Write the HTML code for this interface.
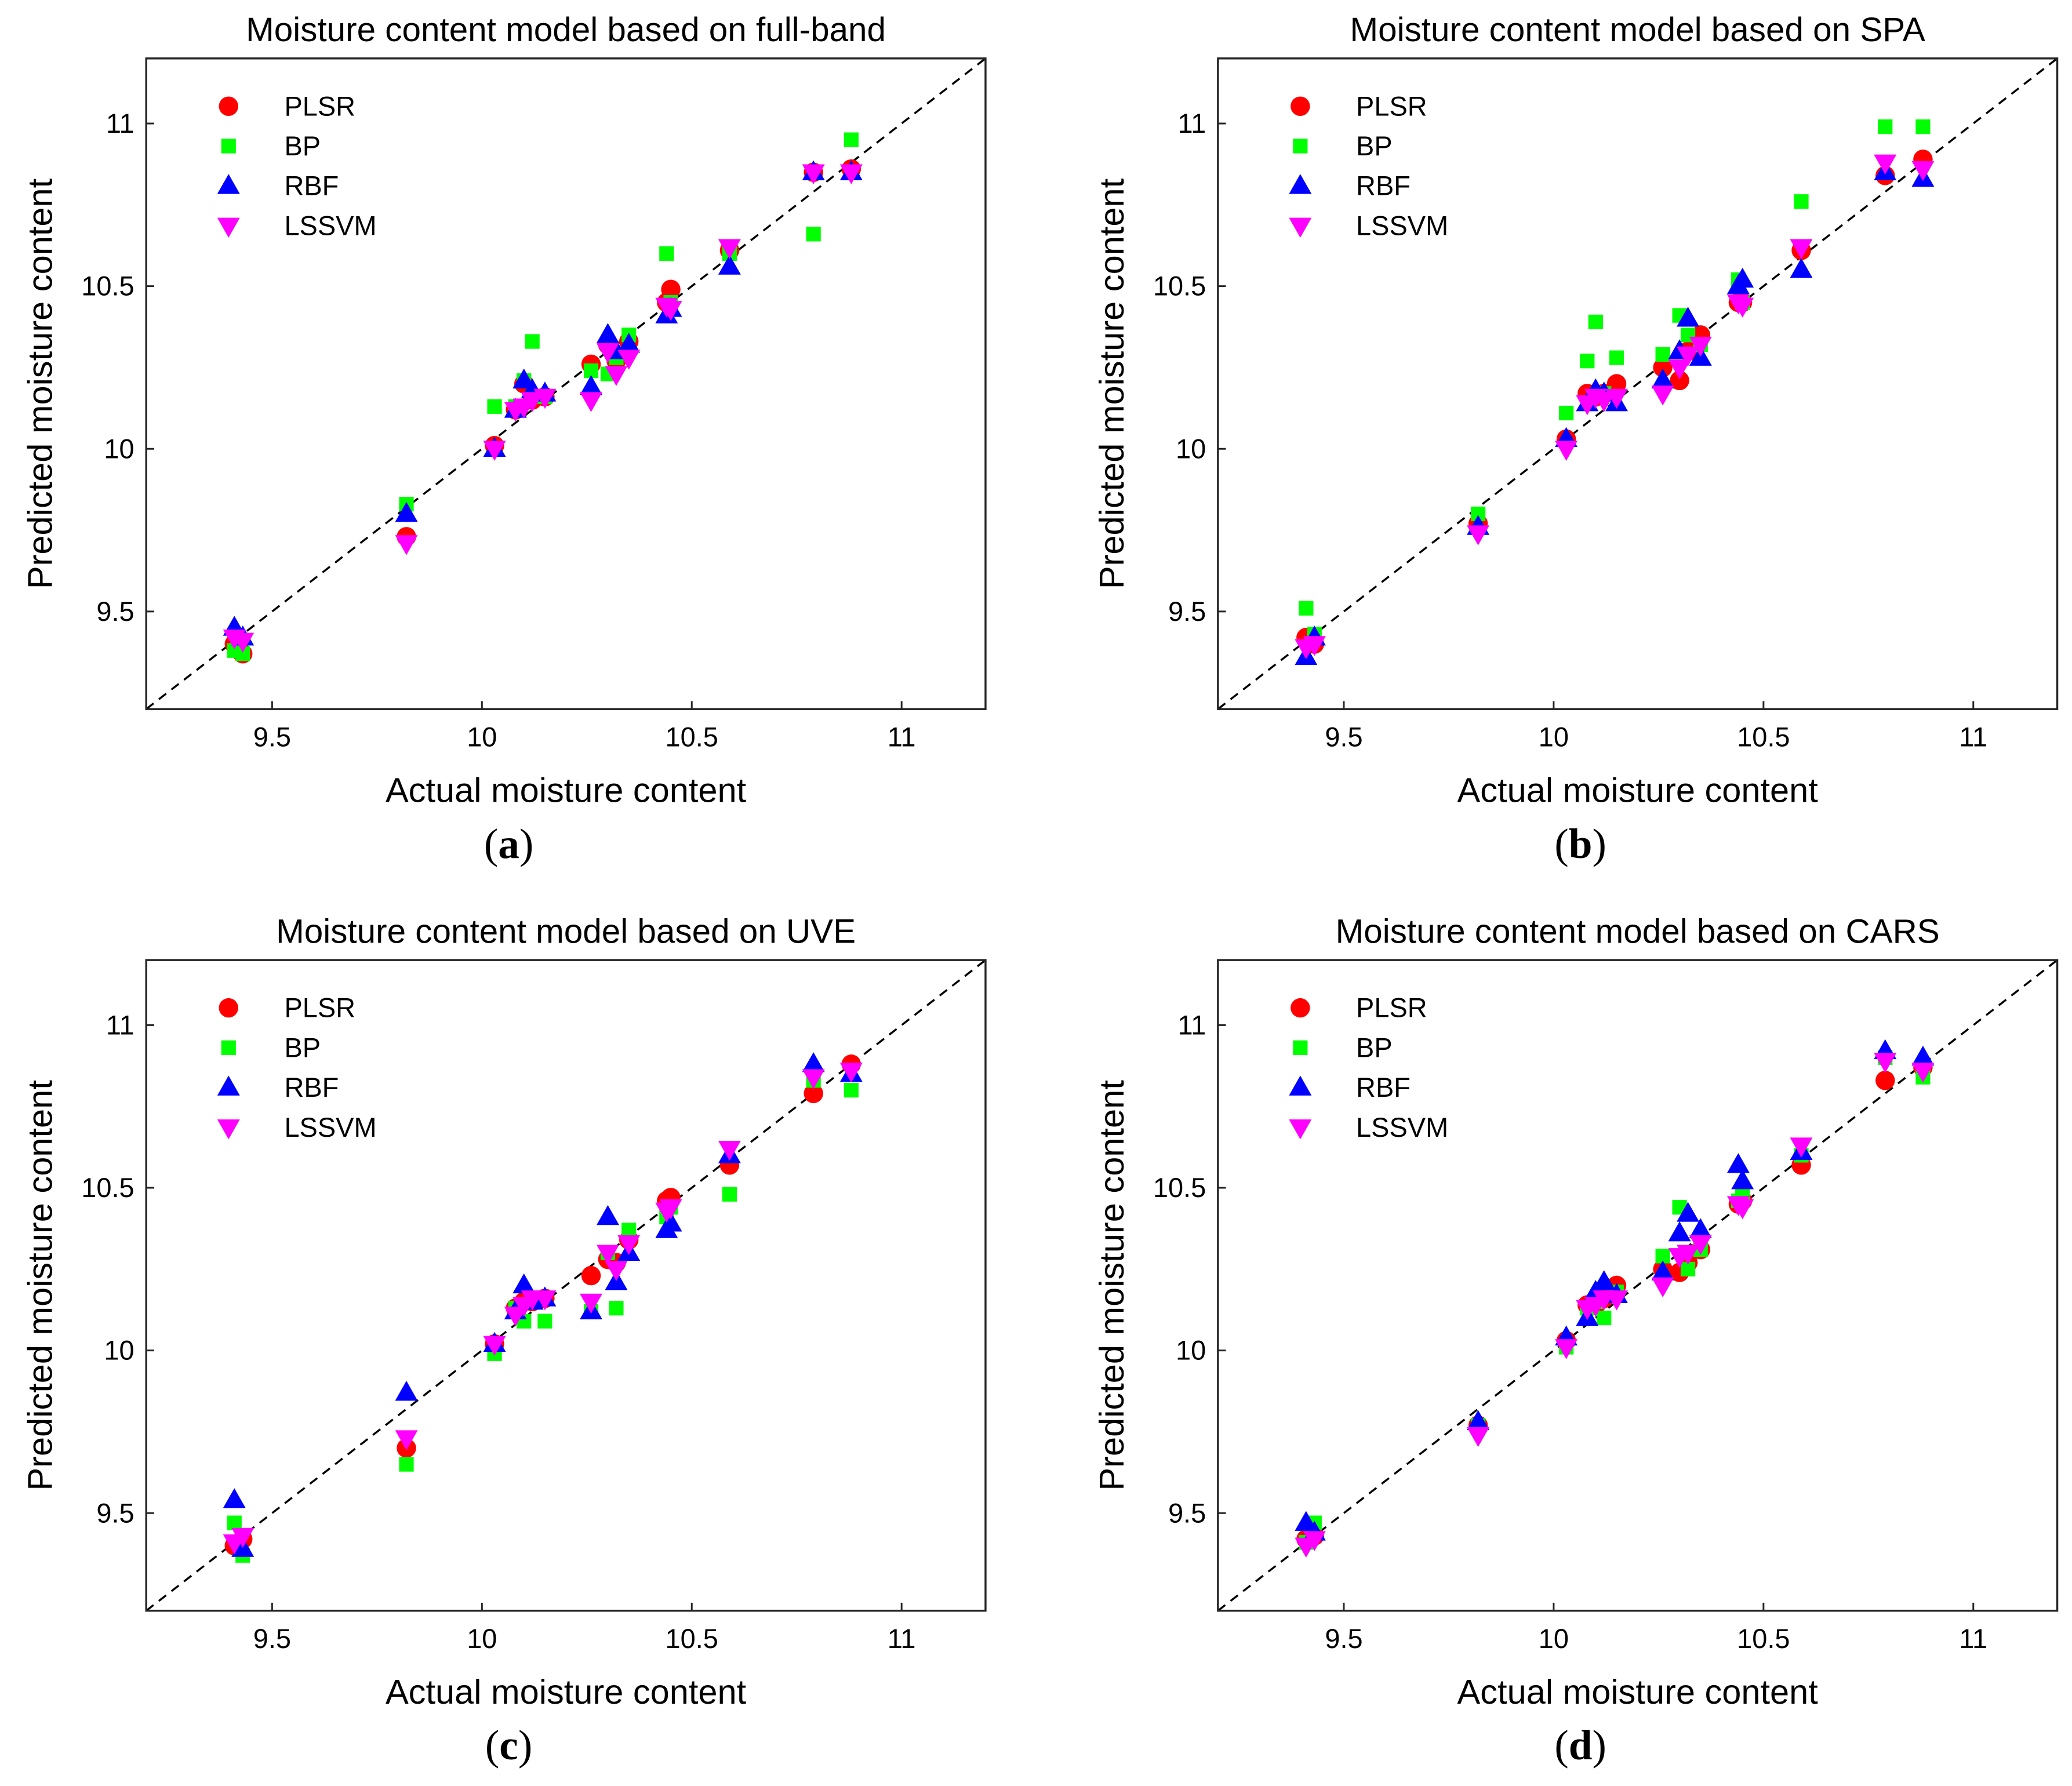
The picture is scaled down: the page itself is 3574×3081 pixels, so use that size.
<!DOCTYPE html>
<html><head><meta charset="utf-8"><style>html,body{margin:0;padding:0;background:#fff}svg{display:block}</style></head>
<body>
<svg id="fig" xmlns="http://www.w3.org/2000/svg" width="3574" height="3081" viewBox="0 0 1560 1345" font-family="Liberation Sans, sans-serif"></svg>
<script>
const actual = [9.41,9.43,9.82,10.03,10.08,10.10,10.12,10.15,10.26,10.30,10.32,10.35,10.44,10.45,10.59,10.79,10.88];
const seriesNames = ["PLSR","BP","RBF","LSSVM"];
const panelTitles = ["Moisture content model based on full-band","Moisture content model based on SPA","Moisture content model based on UVE","Moisture content model based on CARS"];
const panelLetters = ["a","b","c","d"];
const tickValues = [9.5,10,10.5,11];
const tickLabels = ["9.5","10","10.5","11"];
const aPLSR = [9.40,9.37,9.73,10.01,10.12,10.20,10.15,10.16,10.26,10.32,10.27,10.33,10.45,10.49,10.61,10.85,10.86];
const aBP = [9.38,9.37,9.83,10.13,10.13,10.21,10.33,10.16,10.24,10.23,10.28,10.35,10.60,10.45,10.60,10.66,10.95];
const aRBF = [9.45,9.42,9.80,10.00,10.12,10.21,10.18,10.17,10.19,10.35,10.30,10.32,10.41,10.43,10.56,10.85,10.85];
const aLSSVM = [9.42,9.41,9.71,10.00,10.12,10.13,10.15,10.16,10.15,10.30,10.23,10.28,10.44,10.43,10.62,10.85,10.85];
const bPLSR = [9.42,9.40,9.77,10.03,10.17,10.16,10.17,10.20,10.25,10.21,10.30,10.35,10.45,10.45,10.61,10.84,10.89];
const bBP = [9.51,9.43,9.80,10.11,10.27,10.39,10.17,10.28,10.29,10.41,10.35,10.32,10.52,10.45,10.76,10.99,10.99];
const bRBF = [9.36,9.42,9.76,10.03,10.14,10.18,10.17,10.14,10.21,10.30,10.40,10.28,10.50,10.52,10.55,10.85,10.83];
const bLSSVM = [9.39,9.40,9.74,10.00,10.14,10.16,10.15,10.16,10.17,10.25,10.29,10.32,10.45,10.44,10.62,10.88,10.86];
const cPLSR = [9.40,9.42,9.70,10.02,10.13,10.15,10.15,10.16,10.23,10.28,10.27,10.34,10.46,10.47,10.57,10.79,10.88];
const cBP = [9.47,9.37,9.65,9.99,10.13,10.09,10.15,10.09,10.12,10.30,10.13,10.37,10.41,10.44,10.48,10.83,10.80];
const cRBF = [9.54,9.39,9.87,10.02,10.12,10.20,10.15,10.16,10.12,10.41,10.21,10.30,10.37,10.39,10.60,10.88,10.85];
const cLSSVM = [9.41,9.43,9.73,10.02,10.11,10.14,10.16,10.16,10.15,10.30,10.25,10.33,10.43,10.44,10.62,10.84,10.86];
const dPLSR = [9.42,9.43,9.77,10.03,10.14,10.14,10.16,10.20,10.25,10.24,10.27,10.31,10.45,10.46,10.57,10.83,10.87];
const dBP = [9.41,9.47,9.77,10.01,10.13,10.15,10.10,10.18,10.29,10.44,10.25,10.31,10.46,10.48,10.60,10.90,10.84];
const dRBF = [9.47,9.44,9.78,10.04,10.10,10.18,10.21,10.17,10.24,10.36,10.42,10.37,10.57,10.52,10.61,10.92,10.90];
const dLSSVM = [9.40,9.42,9.74,10.01,10.13,10.14,10.16,10.16,10.20,10.29,10.30,10.33,10.45,10.44,10.63,10.89,10.86];
const panelData = [[aPLSR,aBP,aRBF,aLSSVM],[bPLSR,bBP,bRBF,bLSSVM],[cPLSR,cBP,cRBF,cLSSVM],[dPLSR,dBP,dRBF,dLSSVM]];

const NS="http://www.w3.org/2000/svg";
const svg=document.getElementById('fig');
function mk(tag,attrs,parent){const e=document.createElementNS(NS,tag);for(const k in attrs)e.setAttribute(k,attrs[k]);parent.appendChild(e);return e;}
const colors=["#ff0000","#00ff00","#0000ff","#ff00ff"];
function marker(g,s,cx,cy){
  let e;
  if(s===0) e=mk('circle',{cx:cx,cy:cy,r:7.3,fill:colors[0]},g);
  else if(s===1) e=mk('rect',{x:cx-5.5,y:cy-5.5,width:11,height:11,fill:colors[1]},g);
  else if(s===2) e=mk('polygon',{points:`${cx},${cy-9} ${cx-8.5},${cy+6} ${cx+8.5},${cy+6}`,fill:colors[2]},g);
  else e=mk('polygon',{points:`${cx},${cy+9} ${cx-8.5},${cy-6} ${cx+8.5},${cy-6}`,fill:colors[3]},g);
  return e;
}
const origins=[[110,44],[917,44],[110,723],[917,723]];
const W=632,H=490,vmin=9.2,vmax=11.2;
panelData.forEach((pd,p)=>{
  const [ox,oy]=origins[p];
  const g=mk('g',{},svg);
  
  
  const xs=v=>ox+(v-vmin)/(vmax-vmin)*W;
  const ys=v=>oy+H-(v-vmin)/(vmax-vmin)*H;
  const t=mk('text',{x:ox+W/2,y:oy-13,'text-anchor':'middle','font-size':25.5},g);t.textContent=panelTitles[p];
  
  const diag=mk('line',{x1:xs(vmin),y1:ys(vmin),x2:xs(vmax),y2:ys(vmax),stroke:'#000','stroke-width':1.5,'stroke-dasharray':'7,5'},g);
  
  tickValues.forEach((v,i)=>{
    mk('line',{x1:xs(v),y1:oy+H,x2:xs(v),y2:oy+H-6,stroke:'#262626','stroke-width':1.3},g);
    mk('line',{x1:ox,y1:ys(v),x2:ox+6,y2:ys(v),stroke:'#262626','stroke-width':1.3},g);
    const tx=mk('text',{x:xs(v),y:oy+H+28,'text-anchor':'middle','font-size':20.5},g);tx.textContent=tickLabels[i];
    
    const ty=mk('text',{x:ox-9,y:ys(v)+7,'text-anchor':'end','font-size':20.5},g);ty.textContent=tickLabels[i];
    
  });
  pd.forEach((arr,s)=>{
    arr.forEach((v,i)=>{
      const m=marker(g,s,xs(actual[i]),ys(v));
      
      
    });
  });
  const box=mk('rect',{x:ox,y:oy,width:W,height:H,fill:'none',stroke:'#262626','stroke-width':1.5},g);
  
  seriesNames.forEach((n,s)=>{
    const ly=oy+36+s*30;
    const m=marker(g,s,ox+62,ly);
    
    const lt=mk('text',{x:ox+104,y:ly+7,'font-size':20.5},g);lt.textContent=n;
    
  });
  const xl=mk('text',{x:ox+W/2,y:oy+H+70,'text-anchor':'middle','font-size':26},g);xl.textContent='Actual moisture content';
  
  const yl=mk('text',{x:0,y:0,'text-anchor':'middle','font-size':26,transform:`translate(${ox-71},${oy+H/2}) rotate(-90)`},g);yl.textContent='Predicted moisture content';
  
  const pl=mk('text',{x:ox+W/2-43,y:oy+H+112,'text-anchor':'middle','font-size':32,'font-family':'Liberation Serif, serif'},g);
  pl.innerHTML='(<tspan font-weight="bold">'+panelLetters[p]+'</tspan>)';
  
});
</script>
</body></html>
